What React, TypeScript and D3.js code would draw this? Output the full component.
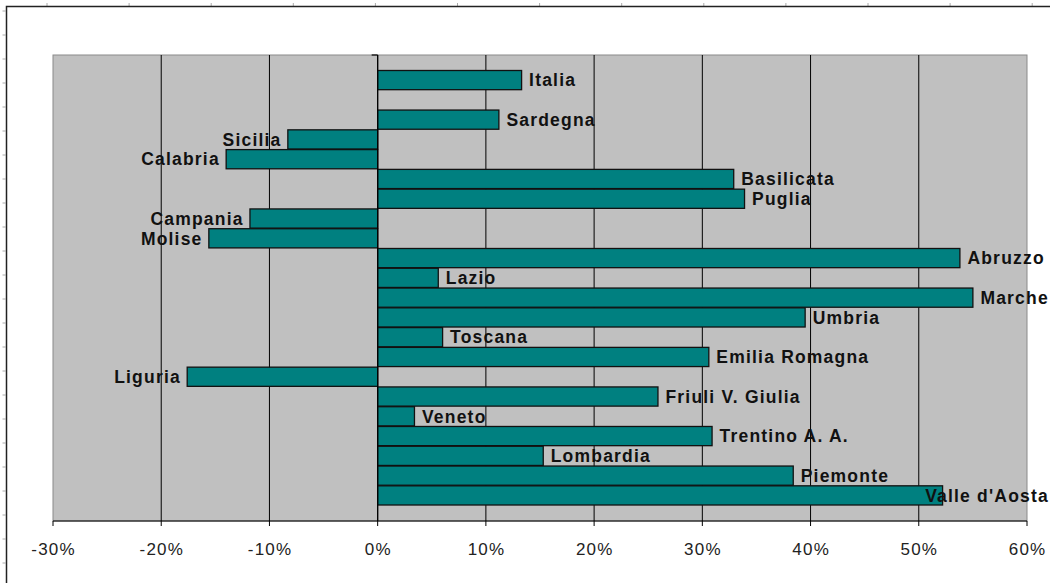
import React from "react";
import * as d3 from "d3";

const regions = [
  "Italia", "", "Sardegna", "Sicilia", "Calabria", "Basilicata", "Puglia",
  "Campania", "Molise", "Abruzzo", "Lazio", "Marche", "Umbria", "Toscana",
  "Emilia Romagna", "Liguria", "Friuli V. Giulia", "Veneto", "Trentino A. A.",
  "Lombardia", "Piemonte", "Valle d'Aosta",
];
const values: (number | null)[] = [
  13.3, null, 11.2, -8.3, -14.0, 32.9, 33.9, -11.8, -15.6, 53.8, 5.6, 55.0,
  39.5, 6.0, 30.6, -17.6, 25.9, 3.4, 30.9, 15.3, 38.4, 52.2,
];
const xTicks = [-30, -20, -10, 0, 10, 20, 30, 40, 50, 60];

const W = 1050;
const H = 583;
const FONT = "'Liberation Sans', Arial, sans-serif";
const LABEL_SIZE = 17.5;
const LABEL_LS = 1.2;

let ctx: CanvasRenderingContext2D | null = null;
function measure(t: string): number {
  if (!ctx) {
    const c = document.createElement("canvas");
    ctx = c.getContext("2d");
  }
  if (!ctx) return t.length * 10;
  ctx.font = `bold ${LABEL_SIZE}px ${FONT}`;
  return ctx.measureText(t).width + LABEL_LS * t.length;
}

export default function App() {
  const x = d3.scaleLinear().domain([-30, 60]).range([53, 1027]);
  const y = d3
    .scaleBand<string>()
    .domain(regions.map((r, i) => `${i}`))
    .range([70.5, 505])
    .paddingInner(0.03)
    .paddingOuter(0);
  const plotTop = 55;
  const plotBottom = 521;
  const x0 = x(0);

  const leftTicks = d3.range(11, H, 24);
  const topTicks = d3.range(47, W, 82.1);

  return (
    <svg
      width={W}
      height={H}
      style={{ position: "absolute", left: 0, top: 0 }}
      fontFamily={FONT}
    >
      <rect x={0} y={0} width={W} height={H} fill="#fff" />
      {/* outer frame */}
      {leftTicks.map((t) => (
        <line key={"lt" + t} x1={2.5} x2={5.5} y1={t} y2={t} stroke="#aaa" />
      ))}
      {topTicks.map((t) => (
        <line key={"tt" + t} x1={t} x2={t} y1={3} y2={6} stroke="#aaa" />
      ))}
      <path d={`M6.5,${H} V6.5 H${W}`} fill="none" stroke="#222" strokeWidth={1.5} />

      {/* plot area */}
      <rect
        x={x(-30)}
        y={plotTop}
        width={x(60) - x(-30)}
        height={plotBottom - plotTop}
        fill="#c0c0c0"
        stroke="#8a8a8a"
        strokeWidth={1}
      />
      {xTicks
        .filter((t) => t !== -30 && t !== 60)
        .map((t) => (
          <line
            key={"g" + t}
            x1={x(t)}
            x2={x(t)}
            y1={plotTop}
            y2={plotBottom}
            stroke="#000"
            strokeWidth={1}
          />
        ))}

      {/* bars */}
      {regions.map((r, i) => {
        const v = values[i];
        if (v === null) return null;
        const yy = y(`${i}`)!;
        const bx = Math.min(x(v), x0);
        const bw = Math.abs(x(v) - x0);
        return (
          <rect
            key={"b" + i}
            x={bx}
            y={yy}
            width={bw}
            height={y.bandwidth()}
            fill="#008080"
            stroke="#111"
            strokeWidth={1.3}
          />
        );
      })}

      {/* zero axis */}
      <line x1={x0} x2={x0} y1={plotTop} y2={plotBottom} stroke="#000" strokeWidth={1.2} />
      <line x1={x0 - 6} x2={x0} y1={plotTop} y2={plotTop} stroke="#000" strokeWidth={1.2} />

      {/* x axis */}
      <line x1={x(-30)} x2={x(60)} y1={plotBottom} y2={plotBottom} stroke="#000" strokeWidth={1.2} />
      {xTicks.map((t) => (
        <g key={"xt" + t}>
          <line x1={x(t)} x2={x(t)} y1={plotBottom} y2={plotBottom + 5} stroke="#000" />
          <text
            x={x(t) + 0.6}
            y={555}
            textAnchor="middle"
            fontSize={17}
            letterSpacing={1.2}
            fill="#222"
          >
            {`${t}%`}
          </text>
        </g>
      ))}

      {/* labels */}
      {regions.map((r, i) => {
        const v = values[i];
        if (v === null) return null;
        const cy = y(`${i}`)! + y.bandwidth() / 2;
        const w = measure(r);
        let lx: number;
        if (v >= 0) {
          lx = x(v) + 7.5;
          if (lx + w > 1049) lx = 1049 - w;
        } else {
          lx = x(v) - 7.5 - w + LABEL_LS;
        }
        return (
          <text
            key={"l" + i}
            x={lx}
            y={cy + 6.3}
            fontSize={LABEL_SIZE}
            fontWeight="bold"
            letterSpacing={LABEL_LS}
            fill="#111"
          >
            {r}
          </text>
        );
      })}
    </svg>
  );
}
